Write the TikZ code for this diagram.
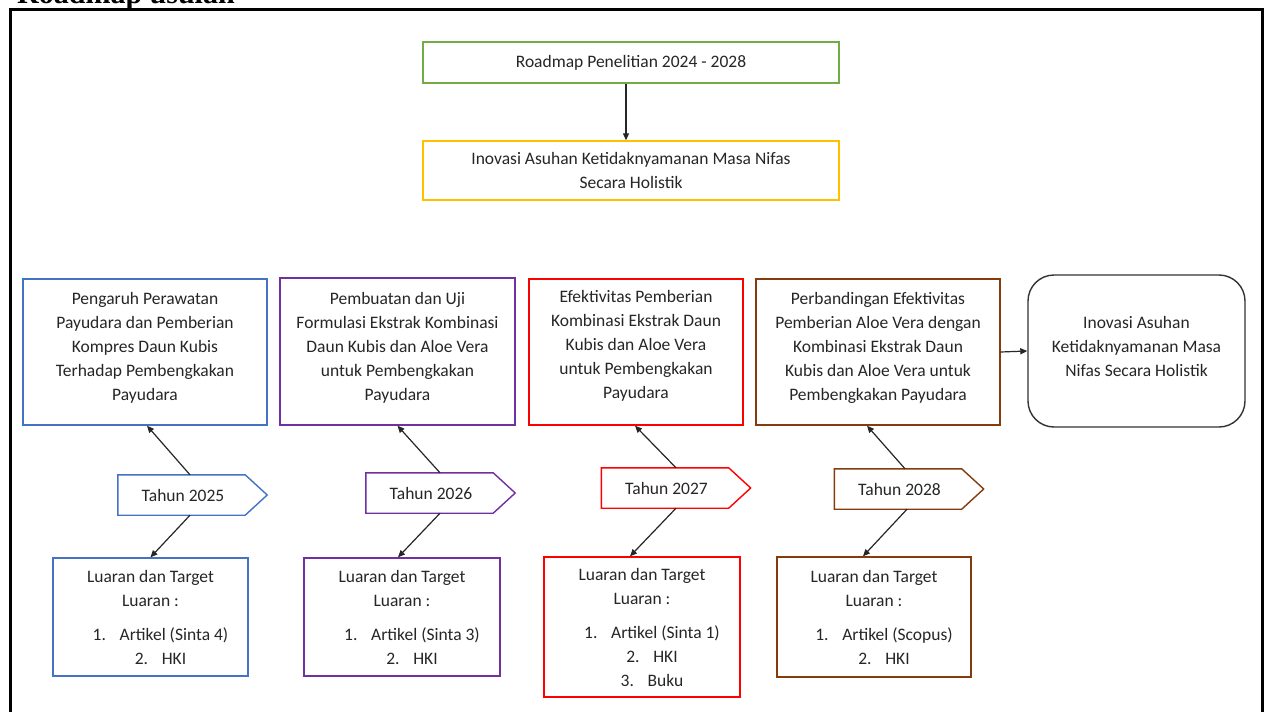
\documentclass[tikz,border=0pt]{standalone}
\usepackage{fontspec}
\setmainfont{Carlito}
\newfontfamily\titlefont{Liberation Serif}
\usetikzlibrary{arrows.meta,calc}
\definecolor{cblue}{HTML}{4472C4}
\definecolor{cpurple}{HTML}{7030A0}
\definecolor{cred}{HTML}{FF0000}
\definecolor{cbrown}{HTML}{843C0C}
\definecolor{cgreen}{HTML}{70AD47}
\definecolor{cyellow}{HTML}{FFC000}
\definecolor{ctext}{HTML}{262626}
\newcommand{\itm}[2]{\makebox[27pt][l]{#1}#2}
\begin{document}
\begin{tikzpicture}[x=1pt,y=-1pt,
  box/.style={draw=#1, line width=1.4pt, rectangle, align=center, inner sep=0pt,
    font=\fontsize{17.5}{24}\selectfont, text=ctext},
  txt/.style={align=center, inner sep=0pt, font=\fontsize{17.5}{24}\selectfont, text=ctext},
  tahun/.style={rectangle, inner sep=0pt, minimum width=127pt, minimum height=40pt,
    font=\fontsize{17.5}{24}\selectfont, text=ctext},
  pent/.style={draw=#1, line width=1.4pt},
  arr/.style={line width=1.2pt, draw=ctext, -{Triangle[length=7pt,width=6pt]}}
]
\clip (0,0) rectangle (1267,712);
\fill[white] (0,0) rectangle (1267,712);
% title (cut off at top, as in the reference)
\node[anchor=base west, inner sep=0pt, font=\titlefont\bfseries\fontsize{30}{36}\selectfont] (title) at (17,3) {Roadmap usulan};
% outer frame
\coordinate (fbl) at (10,740);
\coordinate (ftl) at (10,9);
\coordinate (ftr) at (1262,9);
\coordinate (fbr) at (1262,740);
\draw[line width=3pt] (fbl) -- (ftl) -- (ftr) -- (fbr);

% top boxes
\node[box=cgreen, minimum width=416pt, minimum height=41pt] (road) at (631,62.5) {Roadmap Penelitian 2024 - 2028};
\node[box=cyellow, minimum width=416pt, minimum height=59pt] (inov) at (631,170.5) {Inovasi Asuhan Ketidaknyamanan Masa Nifas\\Secara Holistik};
\draw[arr] ([xshift=-5pt]road.south) -- ([xshift=-5pt]inov.north);

% research boxes
\node[box=cblue, minimum width=244pt, minimum height=146pt] (b1) at (145,352) {};
\node[txt] (b1t) at ([yshift=4pt]b1.center) {Pengaruh Perawatan\\Payudara dan Pemberian\\Kompres Daun Kubis\\Terhadap Pembengkakan\\Payudara};
\node[box=cpurple, minimum width=235pt, minimum height=147pt] (b2) at (397.5,351.5) {};
\node[txt] (b2t) at ([yshift=4pt]b2.center) {Pembuatan dan Uji\\Formulasi Ekstrak Kombinasi\\Daun Kubis dan Aloe Vera\\untuk Pembengkakan\\Payudara};
\node[box=cred, minimum width=214pt, minimum height=146pt] (b3) at (636,352) {};
\node[txt] (b3t) at ([yshift=6pt]b3.center) {Efektivitas Pemberian\\Kombinasi Ekstrak Daun\\Kubis dan Aloe Vera\\untuk Pembengkakan\\Payudara};
\node[box=cbrown, minimum width=244pt, minimum height=146pt] (b4) at (878,352) {};
\node[txt] (b4t) at ([yshift=4pt]b4.center) {Perbandingan Efektivitas\\Pemberian Aloe Vera dengan\\Kombinasi Ekstrak Daun\\Kubis dan Aloe Vera untuk\\Pembengkakan Payudara};
\node[box=black!80, rounded corners=26pt, minimum width=217pt, minimum height=152pt] (b5) at (1136.5,351) {};
\node[txt] (b5t) at ([yshift=5pt]b5.center) {Inovasi Asuhan\\Ketidaknyamanan Masa\\Nifas Secara Holistik};
\draw[arr] (b4.east) -- (b5.west);

% tahun pentagons
\node[tahun] (t1) at (183,495) {Tahun 2025};
\node[tahun] (t2) at (431,493) {Tahun 2026};
\node[tahun] (t3) at (666.5,488) {Tahun 2027};
\node[tahun] (t4) at (899.5,489) {Tahun 2028};
\foreach \t/\c in {t1/cblue,t2/cpurple,t3/cred,t4/cbrown}{
  \draw[pent=\c] ([xshift=-1.5pt]\t.north west) -- ([xshift=-1.5pt]\t.north east) -- ([xshift=20.5pt]\t.east) -- ([xshift=-1.5pt]\t.south east) -- ([xshift=-1.5pt]\t.south west) -- cycle;
}

% output boxes
\node[box=cblue, minimum width=195pt, minimum height=118pt] (o1) at (150.5,617) {Luaran dan Target\\Luaran :\\[10pt]\hspace*{20pt}\itm{1.}{Artikel (Sinta 4)}\\\hspace*{20pt}\itm{2.}{HKI}};
\node[box=cpurple, minimum width=196pt, minimum height=118pt] (o2) at (402,617) {Luaran dan Target\\Luaran :\\[10pt]\hspace*{20pt}\itm{1.}{Artikel (Sinta 3)}\\\hspace*{20pt}\itm{2.}{HKI}};
\node[box=cred, minimum width=196pt, minimum height=140pt] (o3) at (642,627) {Luaran dan Target\\Luaran :\\[10pt]\hspace*{20pt}\itm{1.}{Artikel (Sinta 1)}\\\hspace*{20pt}\itm{2.}{HKI}\\\hspace*{20pt}\itm{3.}{Buku}};
\node[box=cbrown, minimum width=194pt, minimum height=120pt] (o4) at (874,617) {Luaran dan Target\\Luaran :\\[10pt]\hspace*{20pt}\itm{1.}{Artikel (Scopus)}\\\hspace*{20pt}\itm{2.}{HKI}};

% connectors
\draw[arr] ([xshift=7pt]t1.north) -- ([xshift=2pt]b1.south);
\draw[arr] ([xshift=7pt]t1.south) -- ([xshift=0pt]o1.north);
\draw[arr] ([xshift=9pt]t2.north) -- ([xshift=0pt]b2.south);
\draw[arr] ([xshift=9pt]t2.south) -- ([xshift=-4pt]o2.north);
\draw[arr] ([xshift=9.5pt]t3.north) -- ([xshift=-1pt]b3.south);
\draw[arr] ([xshift=9.5pt]t3.south) -- ([xshift=-12pt]o3.north);
\draw[arr] ([xshift=5.5pt]t4.north) -- ([xshift=-11pt]b4.south);
\draw[arr] ([xshift=7.5pt]t4.south) -- ([xshift=-11pt]o4.north);
\end{tikzpicture}
\end{document}
